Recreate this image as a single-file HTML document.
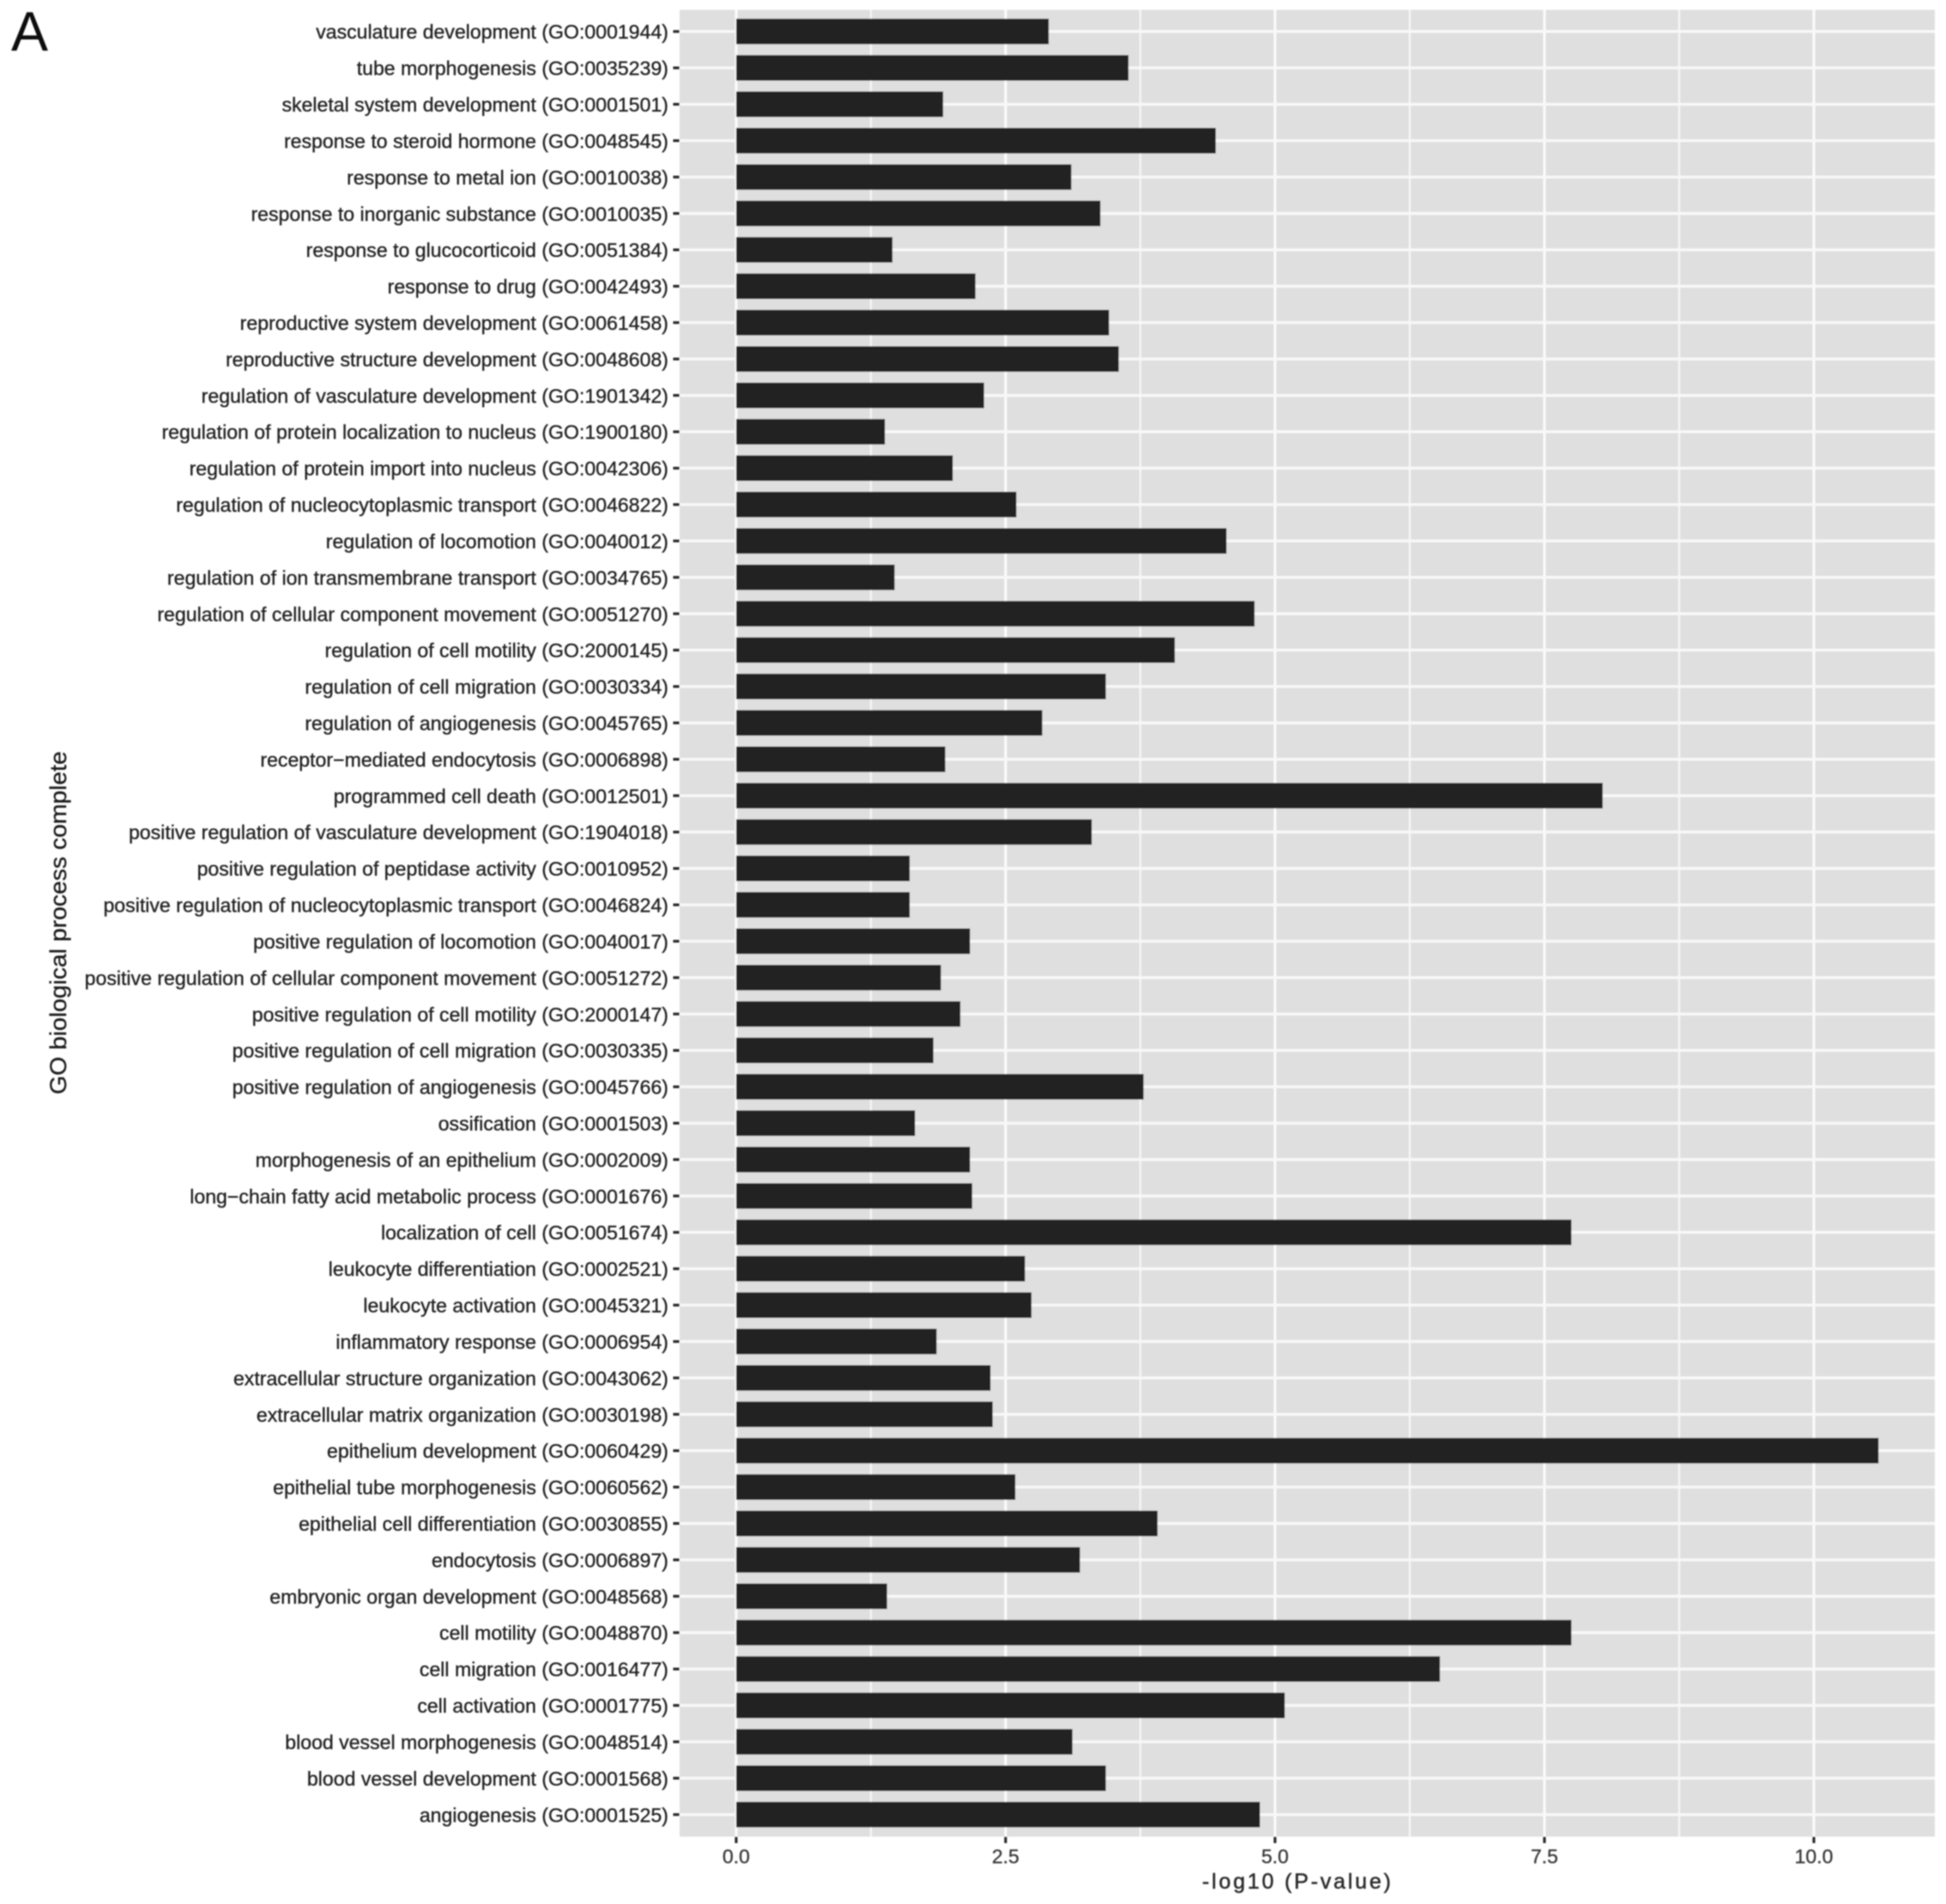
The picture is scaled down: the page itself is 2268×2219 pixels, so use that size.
<!DOCTYPE html>
<html lang="en">
<head>
<meta charset="utf-8">
<title>GO biological process enrichment</title>
<style>
html,body{margin:0;padding:0;background:#fff;width:2268px;height:2219px;overflow:hidden}
svg{display:block}
text{font-family:"Liberation Sans",sans-serif}
</style>
</head>
<body>
<svg id="chart" xmlns="http://www.w3.org/2000/svg" width="2268" height="2219" viewBox="0 0 2268 2219">
<defs><filter id="soft" x="-2%" y="-2%" width="104%" height="104%"><feGaussianBlur stdDeviation="0.75"/></filter></defs>
<rect width="2268" height="2219" fill="#ffffff"/>
<g id="root" filter="url(#soft)">
<rect id="panel" fill="#dfdfdf"/>
<g id="grid"></g>
<g id="bars"></g>
<g id="yaxis"></g>
<g id="xaxis"></g>
<text x="13" y="59" font-size="64.5" fill="#111">A</text>
<text transform="translate(77,1075.5) rotate(-90)" text-anchor="middle" font-size="27" fill="#1a1a1a" stroke="#1a1a1a" stroke-width="0.3" textLength="400" lengthAdjust="spacingAndGlyphs">GO biological process complete</text>
<text x="1511" y="2201" text-anchor="middle" font-size="25" fill="#2a2a2a" stroke="#2a2a2a" stroke-width="0.5" textLength="220" lengthAdjust="spacing">-log10 (P-value)</text>
</g>
</svg>
<script>
const categories = [
"vasculature development (GO:0001944)","tube morphogenesis (GO:0035239)","skeletal system development (GO:0001501)","response to steroid hormone (GO:0048545)","response to metal ion (GO:0010038)","response to inorganic substance (GO:0010035)","response to glucocorticoid (GO:0051384)","response to drug (GO:0042493)","reproductive system development (GO:0061458)","reproductive structure development (GO:0048608)","regulation of vasculature development (GO:1901342)","regulation of protein localization to nucleus (GO:1900180)","regulation of protein import into nucleus (GO:0042306)","regulation of nucleocytoplasmic transport (GO:0046822)","regulation of locomotion (GO:0040012)","regulation of ion transmembrane transport (GO:0034765)","regulation of cellular component movement (GO:0051270)","regulation of cell motility (GO:2000145)","regulation of cell migration (GO:0030334)","regulation of angiogenesis (GO:0045765)","receptor\u2212mediated endocytosis (GO:0006898)","programmed cell death (GO:0012501)","positive regulation of vasculature development (GO:1904018)","positive regulation of peptidase activity (GO:0010952)","positive regulation of nucleocytoplasmic transport (GO:0046824)","positive regulation of locomotion (GO:0040017)","positive regulation of cellular component movement (GO:0051272)","positive regulation of cell motility (GO:2000147)","positive regulation of cell migration (GO:0030335)","positive regulation of angiogenesis (GO:0045766)","ossification (GO:0001503)","morphogenesis of an epithelium (GO:0002009)","long\u2212chain fatty acid metabolic process (GO:0001676)","localization of cell (GO:0051674)","leukocyte differentiation (GO:0002521)","leukocyte activation (GO:0045321)","inflammatory response (GO:0006954)","extracellular structure organization (GO:0043062)","extracellular matrix organization (GO:0030198)","epithelium development (GO:0060429)","epithelial tube morphogenesis (GO:0060562)","epithelial cell differentiation (GO:0030855)","endocytosis (GO:0006897)","embryonic organ development (GO:0048568)","cell motility (GO:0048870)","cell migration (GO:0016477)","cell activation (GO:0001775)","blood vessel morphogenesis (GO:0048514)","blood vessel development (GO:0001568)","angiogenesis (GO:0001525)"
];
const pValues = [2.90,3.64,1.92,4.45,3.11,3.38,1.45,2.22,3.46,3.55,2.30,1.38,2.01,2.60,4.55,1.47,4.81,4.07,3.43,2.84,1.94,8.04,3.30,1.61,1.61,2.17,1.90,2.08,1.83,3.78,1.66,2.17,2.19,7.75,2.68,2.74,1.86,2.36,2.38,10.60,2.59,3.91,3.19,1.40,7.75,6.53,5.09,3.12,3.43,4.86];
const majorTicks = [0,2.5,5,7.5,10];
const majorTickLabels = ["0.0","2.5","5.0","7.5","10.0"];
const minorTicks = [1.25,3.75,6.25,8.75];

const NS = "http://www.w3.org/2000/svg";
const panelLeft = 792, panelRight = 2255, panelTop = 11.5, panelBottom = 2140.5;
const xZero = 858, xUnit = 125.6, yFirst = 36.7, yStep = 42.41, barHeight = 29.7;
function xScale(v){ return xZero + v * xUnit; }
function yScale(i){ return yFirst + i * yStep; }
function make(tag, attrs, parent, txt){
  const el = document.createElementNS(NS, tag);
  for (const k in attrs) el.setAttribute(k, attrs[k]);
  if (txt !== undefined) el.textContent = txt;
  parent.appendChild(el);
  return el;
}
const panel = document.getElementById("panel");
panel.setAttribute("x", panelLeft);
panel.setAttribute("y", panelTop);
panel.setAttribute("width", panelRight - panelLeft);
panel.setAttribute("height", panelBottom - panelTop);

const grid = document.getElementById("grid");
const bars = document.getElementById("bars");
const yaxis = document.getElementById("yaxis");
const xaxis = document.getElementById("xaxis");

minorTicks.forEach(function(t){
  const l = make("line", {x1:xScale(t), x2:xScale(t), y1:panelTop, y2:panelBottom, stroke:"#f7f7f7", "stroke-width":2.2}, grid);
  
  
});
majorTicks.forEach(function(t, i){
  const l = make("line", {x1:xScale(t), x2:xScale(t), y1:panelTop, y2:panelBottom, stroke:"#fbfbfb", "stroke-width":3.2}, grid);
  
  
  const tk = make("line", {x1:xScale(t), x2:xScale(t), y1:panelBottom, y2:panelBottom + 7.5, stroke:"#2a2a2a", "stroke-width":3.2}, xaxis);
  
  
  const lb = make("text", {x:xScale(t), y:2171.5, "text-anchor":"middle", "font-size":23, fill:"#3a3a3a", stroke:"#3a3a3a", "stroke-width":0.35}, xaxis, majorTickLabels[i]);
  
  
});
categories.forEach(function(name, i){
  const y = yScale(i);
  const g = make("line", {x1:panelLeft, x2:panelRight, y1:y, y2:y, stroke:"#f8f8f8", "stroke-width":3.4}, grid);
  
  
  const b = make("rect", {x:xScale(0), y:y - barHeight / 2, width:xScale(pValues[i]) - xScale(0), height:barHeight, fill:"#222222"}, bars);
  
  
  const tk = make("line", {x1:panelLeft - 7.5, x2:panelLeft, y1:y, y2:y, stroke:"#2a2a2a", "stroke-width":3.2}, yaxis);
  
  
  const lb = make("text", {x:779, y:y + 8.5, "text-anchor":"end", "font-size":23.1, fill:"#222222", stroke:"#222222", "stroke-width":0.35}, yaxis, name);
  
  
});
</script>
</body>
</html>
